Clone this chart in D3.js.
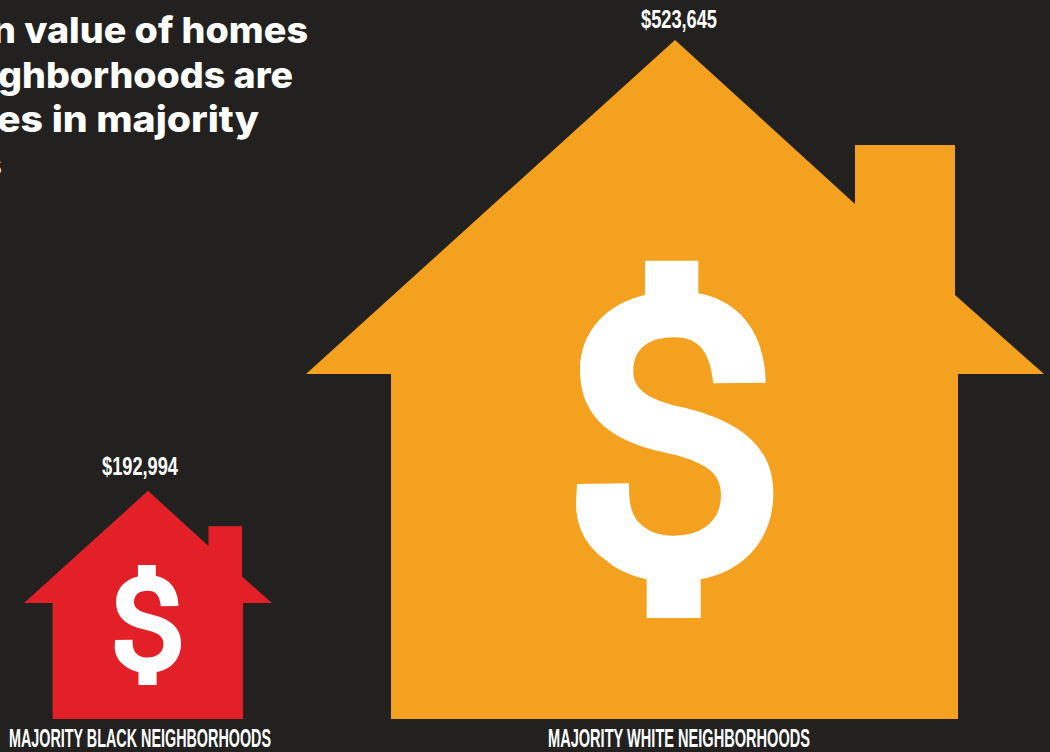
<!doctype html>
<html lang="en">
<head>
	<meta charset="utf-8">
	<title>Home values by neighborhood</title>
	<style>
html, body {
	margin: 0;
	padding: 0;
	background-color: #222120;
	overflow: hidden;
}
svg {
	display: block;
}
.title {
	font-family: 'Inter', sans-serif;
	font-weight: 800;
	font-size: 36px;
	fill: #fff;
}
.note {
	font-family: 'Inter', sans-serif;
	font-weight: 400;
	font-size: 29px;
	fill: #fff;
}
.label {
	font-family: 'Liberation Sans Narrow', 'Liberation Sans', sans-serif;
	font-weight: 700;
	fill: #fff;
}
	</style>
</head>
<body>
	<div id="container"></div>

	<script src="https://cdnjs.cloudflare.com/ajax/libs/d3/7.8.5/d3.min.js"></script>
	<script>
(function (d3) {

	'use strict';

	/* DATA */

	var categories = ['MAJORITY BLACK NEIGHBORHOODS', 'MAJORITY WHITE NEIGHBORHOODS'];
	var values = [192994, 523645];
	var colors = ['#e32028', '#f4a11f'];
	var titleLines = ['n value of homes', 'ghborhoods are', 'es in majority'];

	/* CONST */

	var W = 1050;
	var H = 752;
	var BASE = 719;

	// house outline, big house = 1:1 px, origin at bottom centre
	var HOUSE = [
		[0, -679], [180, -515], [180, -574], [280, -574], [280, -424], [369, -345],
		[283, -345], [283, 0], [-284, 0], [-284, -345], [-369, -345]
	];

	// dollar sign traced from the icon, 3 units per px
	var DOLLAR = 'M315,62 L475,62 L475,160 C590,180 675,270 677,428 L520,430 ' +
		'C510,340 480,292 405,292 C325,292 280,325 280,395 C280,450 330,480 420,500 ' +
		'C600,540 700,620 700,760 C700,900 610,995 482,1018 L482,1134 L320,1134 L320,1018 ' +
		'C260,1005 225,985 190,955 C130,910 108,850 108,790 L111,732 L267,730 ' +
		'C267,770 268,810 290,840 C320,875 355,887 400,887 C490,887 543,840 543,765 ' +
		'C543,700 500,665 370,637 C200,600 120,520 120,390 C120,270 205,190 315,165 Z';

	/* SCALES */

	var size = d3.scaleLinear().domain(d3.extent(values)).range([0.336, 1]);
	var houseX = d3.scalePoint().domain(categories).range([148, 675]);
	var labelX = d3.scalePoint().domain(categories).range([140, 679]);
	var valueY = d3.scaleLinear().domain(d3.extent(values)).range([475, 28]);

	var outline = d3.line().curve(d3.curveLinearClosed);
	var money = d3.format('$,');

	/* RENDER */

	var rows = categories.map(function (c, i) {
		return { category: c, value: values[i], color: colors[i] };
	});

	var svg = d3.select('#container')
		.append('svg')
		.attr('width', W)
		.attr('height', H);

	var houses = svg.selectAll('g.house')
		.data(rows)
		.enter()
		.append('g')
		.attr('class', 'house')
		.attr('transform', function (d) {
			return 'translate(' + houseX(d.category) + ',' + BASE + ') scale(' + size(d.value) + ')';
		});

	houses.append('path')
		.attr('d', outline(HOUSE))
		.attr('fill', function (d) { return d.color; });

	houses.append('path')
		.attr('d', DOLLAR)
		.attr('transform', 'translate(-135,-479) scale(0.3333)')
		.attr('fill', '#fff');

	svg.selectAll('text.value')
		.data(rows)
		.enter()
		.append('text')
		.attr('class', 'label value')
		.attr('x', function (d) { return labelX(d.category); })
		.attr('y', function (d) { return valueY(d.value); })
		.attr('text-anchor', 'middle')
		.attr('font-size', 26)
		.attr('textLength', 76)
		.attr('lengthAdjust', 'spacingAndGlyphs')
		.text(function (d) { return money(d.value); });

	svg.selectAll('text.category')
		.data(rows)
		.enter()
		.append('text')
		.attr('class', 'label category')
		.attr('x', function (d) { return labelX(d.category); })
		.attr('y', 747)
		.attr('text-anchor', 'middle')
		.attr('font-size', 26)
		.attr('textLength', 262)
		.attr('lengthAdjust', 'spacingAndGlyphs')
		.text(function (d) { return d.category; });

	// headline runs off the left edge of the frame
	svg.selectAll('text.title')
		.data(titleLines)
		.enter()
		.append('text')
		.attr('class', 'title')
		.attr('x', function (d, i) { return [-8, -2, -3][i]; })
		.attr('y', function (d, i) { return 43 + i * 44.5; })
		.attr('textLength', function (d, i) { return [316, 295, 262][i]; })
		.attr('lengthAdjust', 'spacingAndGlyphs')
		.text(function (d) { return d; });

	svg.append('text')
		.attr('class', 'note')
		.attr('x', -13)
		.attr('y', 175)
		.text('s');

})(window.d3);
	</script>
</body>
</html>
